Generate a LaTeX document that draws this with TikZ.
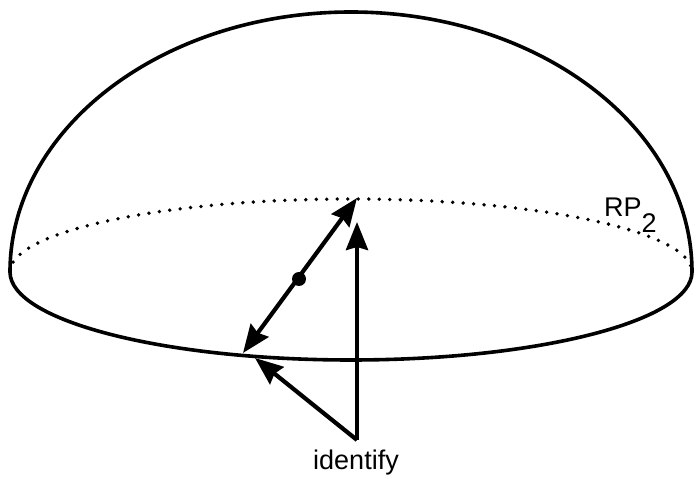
\documentclass[tikz,border=0pt]{standalone}
\usepackage{fontspec}
\setmainfont{Liberation Sans}
\usetikzlibrary{arrows.meta,positioning}
\tikzset{
  domeline/.style={line width=3.6pt, line cap=round},
  backline/.style={line width=3.8pt, line cap=round, dash pattern=on 0pt off 10.5pt},
  bigarrow/.style={-{Stealth[length=28pt, width=22pt, inset=3pt]}, line width=4.2pt},
  dblarrow/.style={{Stealth[length=28pt, width=22pt, inset=3pt]}-{Stealth[length=28pt, width=22pt, inset=3pt]}, line width=4.2pt},
  middot/.style={circle, fill, inner sep=0pt, minimum size=14pt},
  lbl/.style={font=\fontsize{27}{30}\selectfont, inner sep=0pt},
}

\begin{document}
\begin{tikzpicture}[x=1pt, y=1pt]
\useasboundingbox (0,0) rectangle (697,479);

% Hemisphere and equator
\draw[domeline] (10,207) arc[start angle=180, end angle=0, x radius=341, y radius=260];
\draw[domeline] (10,207) arc[start angle=180, end angle=360, x radius=341, y radius=88];
\draw[backline] (10,207) arc[start angle=180, end angle=0, x radius=341, y radius=73];

% Points on the equator
\coordinate (ptop) at (357,281);
\coordinate (pfront) at (243,126);
\coordinate (vtip) at (357,257);
\coordinate (ltip) at (255,121);
\coordinate (apex) at (357,39);

\draw[dblarrow] (pfront) -- (ptop);
\node[middot] (mid) at (299,200) {};

\draw[bigarrow] (apex) -- (vtip);
\draw[bigarrow] (apex) -- (ltip);

% Labels
\node[lbl, anchor=base] (identify) at (356,9) {identify};
\node[lbl, anchor=base west] (rp) at (604,262) {RP\raisebox{-16pt}{2}};

\end{tikzpicture}
\end{document}
